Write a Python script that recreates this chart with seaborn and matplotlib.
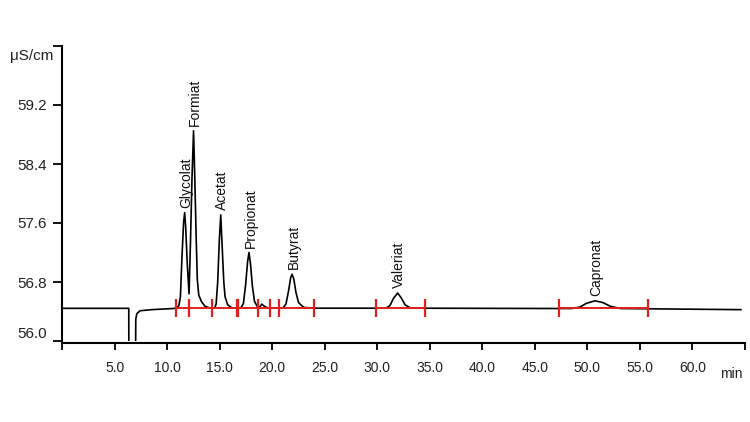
import matplotlib
matplotlib.use("Agg")
import matplotlib.pyplot as plt
import seaborn as sns
import pandas as pd

# ---- data ----
trace_time = [0.0, 6.33, 6.34, 6.97, 7.0, 7.1, 7.4, 8.5, 10.5,
              10.9, 11.1, 11.25, 11.4, 11.55, 11.65, 11.75, 11.9, 12.07,
              12.2, 12.35, 12.5, 12.62, 12.75, 12.86, 13.0, 13.27, 13.6, 14.0,
              14.5, 14.65, 14.8, 14.95, 15.09, 15.22, 15.38, 15.5, 15.75, 16.2,
              17.0, 17.25, 17.45, 17.65, 17.78, 17.92, 18.1, 18.3, 18.6,
              18.8, 19.0, 19.25, 19.6,
              21.0, 21.3, 21.55, 21.75, 21.88, 22.05, 22.25, 22.5, 23.0, 24.0,
              30.8, 31.2, 31.55, 31.94, 32.3, 32.65, 33.2,
              48.5, 49.3, 49.9, 50.74, 51.5, 52.2, 53.2,
              64.65]
trace_signal = [56.443, 56.443, 55.7, 55.7, 56.30, 56.37, 56.41, 56.425, 56.44,
                56.445, 56.48, 56.60, 57.15, 57.60, 57.74, 57.55, 57.05, 56.64,
                57.30, 58.20, 58.85, 58.20, 57.40, 56.83, 56.62, 56.53, 56.47, 56.45,
                56.445, 56.50, 56.80, 57.35, 57.71, 57.30, 56.80, 56.60, 56.49, 56.445,
                56.445, 56.51, 56.75, 57.08, 57.20, 57.05, 56.75, 56.54, 56.46,
                56.46, 56.50, 56.47, 56.445,
                56.445, 56.50, 56.68, 56.86, 56.905, 56.84, 56.66, 56.52, 56.455, 56.445,
                56.445, 56.48, 56.58, 56.65, 56.58, 56.49, 56.445,
                56.44, 56.46, 56.51, 56.545, 56.52, 56.47, 56.44,
                56.425]

peak_names = ["Glycolat", "Formiat", "Acetat", "Propionat", "Butyrat", "Valeriat", "Capronat"]
peak_times = [11.65, 12.5, 15.09, 17.78, 21.88, 31.94, 50.74]
peak_heights = [57.74, 58.85, 57.71, 57.20, 56.905, 56.65, 56.545]

marker_times = [10.8, 12.07, 14.29, 16.6, 16.75, 18.67, 19.81, 20.67, 23.97,
                29.85, 34.55, 47.3, 55.8]
segment_starts = [10.8, 29.85, 47.3]
segment_ends = [23.97, 34.55, 55.8]
baseline_level = 56.445

x_ticks = [0, 5, 10, 15, 20, 25, 30, 35, 40, 45, 50, 55, 60, 65]
x_tick_labels = ["", "5.0", "10.0", "15.0", "20.0", "25.0", "30.0", "35.0",
                 "40.0", "45.0", "50.0", "55.0", "60.0", ""]
y_ticks = [56.0, 56.8, 57.6, 58.4, 59.2, 60.0]
y_tick_labels = ["56.0", "56.8", "57.6", "58.4", "59.2", ""]

# ---- figure ----
sns.set_theme(style="white")
plt.rcParams["font.family"] = ["Liberation Sans", "DejaVu Sans"]

fig = plt.figure(figsize=(7.5, 4.22), dpi=100)
ax = fig.add_axes([62.3 / 750, 1 - 341 / 422, (744.8 - 62.3) / 750, 295 / 422])

df = pd.DataFrame({"time": trace_time, "signal": trace_signal})
sns.lineplot(data=df, x="time", y="signal", sort=False, estimator=None,
             color="black", linewidth=1.2, ax=ax, zorder=2)

# integration baselines and markers
ax.hlines([baseline_level] * len(segment_starts), segment_starts, segment_ends,
          colors="#e0201c", linewidth=1.4, zorder=3)
ax.vlines(marker_times, baseline_level - 0.125, baseline_level + 0.125,
          colors="#e0201c", linewidth=1.6, zorder=3)

for name, t, h in zip(peak_names, peak_times, peak_heights):
    ax.annotate(name, xy=(t, h), xytext=(1, 3.5), textcoords="offset points",
                rotation=90, ha="center", va="bottom", fontsize=10, color="#111111")

ax.set_xlim(0, 65)
ax.set_ylim(56.0, 60.0)
ax.set_xticks(x_ticks)
ax.set_xticklabels(x_tick_labels)
ax.set_yticks(y_ticks)
ax.set_yticklabels(y_tick_labels)
ax.set_xlabel("")
ax.set_ylabel("")

for s in ["top", "right"]:
    ax.spines[s].set_visible(False)
for s in ["left", "bottom"]:
    ax.spines[s].set_linewidth(1.5)
    ax.spines[s].set_color("black")
ax.spines["bottom"].set_position(("outward", 1.3))

ax.tick_params(axis="x", direction="out", length=5, width=1.3, pad=8,
               labelsize=10, colors="black", bottom=True)
ax.tick_params(axis="y", direction="out", length=6.5, width=1.3, pad=4.5,
               labelsize=11, colors="black", left=True)
for lab in ax.get_xticklabels() + ax.get_yticklabels():
    lab.set_color("#222222")
ax.get_yticklabels()[0].set_verticalalignment("bottom")

fig.text(53 / 750, 1 - 56 / 422, "μS/cm", ha="right", va="center",
         fontsize=11, color="#222222")
fig.text(731 / 750, 1 - 373.5 / 422, "min", ha="center", va="center",
         fontsize=10, color="#222222")

fig.savefig("out.png", dpi=100, facecolor="white")
